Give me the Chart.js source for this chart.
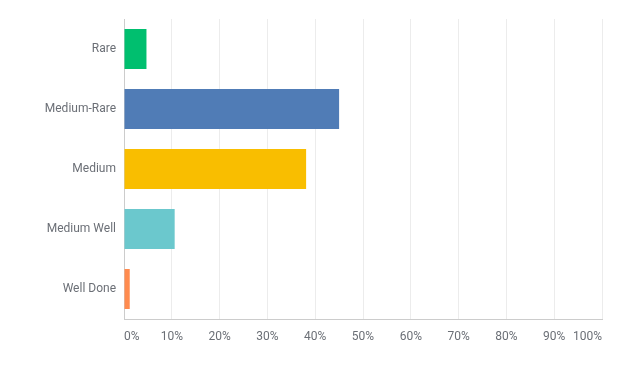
<!DOCTYPE html>
<html>
<head>
<meta charset="utf-8">
<script src="https://cdn.jsdelivr.net/npm/chart.js@4/dist/chart.umd.min.js"></script>
<style>
  html, body { margin: 0; padding: 0; background: #fff; }
  #wrap { width: 628px; height: 377px; }
</style>
</head>
<body>
<div id="wrap"><canvas id="chart"></canvas></div>
<script>
const categories = ['Rare', 'Medium-Rare', 'Medium', 'Medium Well', 'Well Done'];
const percentages = [4.7, 45.0, 38.1, 10.6, 1.2];
const barColors = ['#00BF6F', '#507CB6', '#F9BE00', '#6BC8CD', '#FF8B4F'];
const tickValues = [0, 10, 20, 30, 40, 50, 60, 70, 80, 90, 100];

const ctx = document.getElementById('chart').getContext('2d');

new Chart(ctx, {
    type: 'bar',
    data: {
        labels: categories,
        datasets: [{
            data: percentages,
            backgroundColor: barColors,
            borderWidth: 0,
            barPercentage: 0.667,
            categoryPercentage: 1
        }]
    },
    options: {
        indexAxis: 'y',
        responsive: true,
        maintainAspectRatio: false,
        animation: false,
        layout: {
            padding: { top: 19, right: 26, bottom: 0, left: 0 }
        },
        plugins: {
            legend: { display: false },
            tooltip: { enabled: false }
        },
        scales: {
            x: {
                min: 0,
                max: 100,
                afterBuildTicks: function(scale) {
                    scale.ticks = tickValues.map(v => ({ value: v }));
                },
                afterFit: function(scale) {
                    scale.height = 58;
                },
                grid: {
                    color: '#ececec',
                    drawTicks: false
                },
                border: { color: '#cccccc' },
                ticks: {
                    align: 'inner',
                    padding: 11,
                    maxRotation: 0,
                    autoSkip: false,
                    color: '#6b6f76',
                    font: { family: 'Roboto', size: 12 },
                    callback: v => v + '%'
                }
            },
            y: {
                afterFit: function(scale) {
                    scale.width = 124;
                },
                grid: { display: false, drawTicks: false },
                border: { color: '#cccccc' },
                ticks: {
                    padding: 8,
                    color: '#6b6f76',
                    font: { family: 'Roboto', size: 12 }
                }
            }
        }
    }
});
</script>
</body>
</html>
